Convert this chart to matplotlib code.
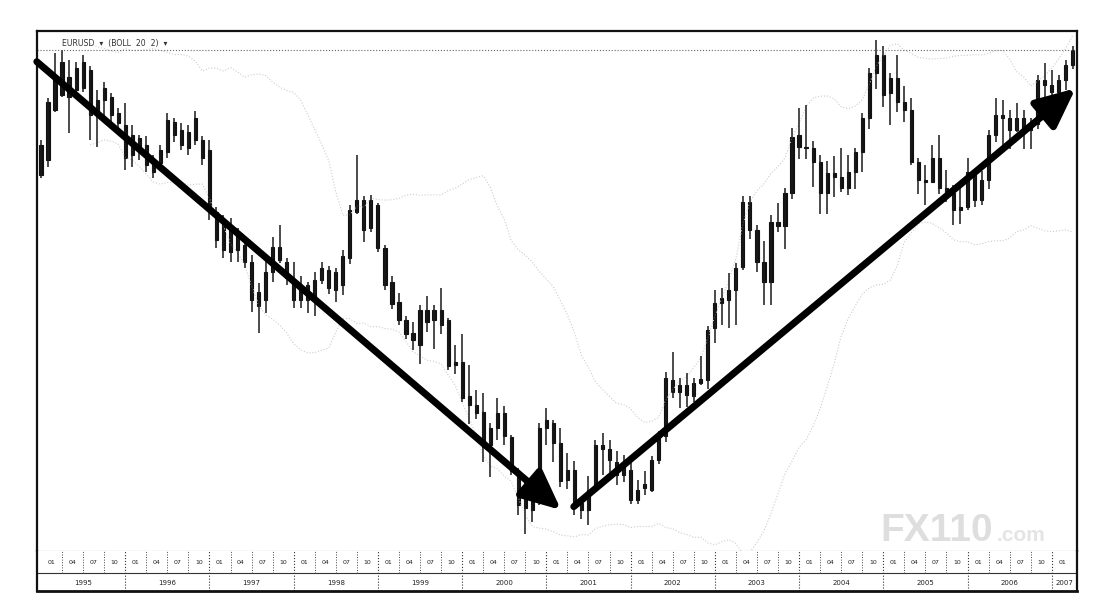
import numpy as np
import pandas as pd
import matplotlib
matplotlib.use("Agg")
import matplotlib.pyplot as plt

# monthly EUR/USD candles, Jan 1995 .. Apr 2007
highs = [1.292, 1.342, 1.396, 1.400, 1.388, 1.386, 1.394, 1.381, 1.352, 1.362, 1.348, 1.330,
         1.336, 1.310, 1.298, 1.297, 1.274, 1.286, 1.324, 1.318, 1.312, 1.310, 1.327, 1.297,
         1.292, 1.212, 1.202, 1.198, 1.186, 1.170, 1.154, 1.120, 1.148, 1.176, 1.190, 1.150,
         1.146, 1.129, 1.122, 1.134, 1.146, 1.141, 1.138, 1.160, 1.214, 1.274, 1.225, 1.226,
         1.216, 1.166, 1.129, 1.108, 1.081, 1.074, 1.094, 1.105, 1.094, 1.114, 1.078, 1.046,
         1.059, 1.022, 0.992, 0.988, 0.952, 0.982, 0.973, 0.938, 0.898, 0.886, 0.878, 0.952,
         0.970, 0.956, 0.946, 0.916, 0.907, 0.862, 0.889, 0.932, 0.940, 0.932, 0.919, 0.914,
         0.907, 0.884, 0.895, 0.913, 0.943, 1.014, 1.038, 1.006, 1.012, 1.006, 1.033, 1.069,
         1.112, 1.114, 1.132, 1.144, 1.225, 1.225, 1.190, 1.171, 1.202, 1.216, 1.234, 1.306,
         1.330, 1.334, 1.291, 1.274, 1.267, 1.273, 1.282, 1.274, 1.282, 1.324, 1.378, 1.412,
         1.405, 1.372, 1.394, 1.357, 1.342, 1.270, 1.262, 1.286, 1.298, 1.256, 1.238, 1.234,
         1.270, 1.255, 1.255, 1.304, 1.342, 1.340, 1.328, 1.336, 1.328, 1.318, 1.370, 1.384,
         1.376, 1.370, 1.388, 1.405]
lows = [1.246, 1.260, 1.326, 1.344, 1.300, 1.346, 1.350, 1.292, 1.284, 1.318, 1.314, 1.306,
        1.256, 1.260, 1.268, 1.254, 1.246, 1.262, 1.270, 1.290, 1.280, 1.274, 1.286, 1.262,
        1.196, 1.162, 1.150, 1.146, 1.146, 1.138, 1.086, 1.060, 1.084, 1.122, 1.144, 1.118,
        1.090, 1.090, 1.084, 1.081, 1.119, 1.107, 1.098, 1.106, 1.143, 1.203, 1.170, 1.182,
        1.158, 1.112, 1.089, 1.070, 1.053, 1.040, 1.023, 1.062, 1.041, 1.059, 1.016, 1.011,
        0.978, 0.951, 0.957, 0.906, 0.888, 0.932, 0.926, 0.890, 0.842, 0.819, 0.834, 0.854,
        0.926, 0.906, 0.876, 0.873, 0.842, 0.837, 0.830, 0.873, 0.890, 0.891, 0.878, 0.882,
        0.855, 0.855, 0.866, 0.870, 0.903, 0.930, 0.982, 0.970, 0.972, 0.978, 0.998, 0.993,
        1.048, 1.070, 1.066, 1.070, 1.136, 1.173, 1.134, 1.094, 1.094, 1.182, 1.161, 1.221,
        1.269, 1.269, 1.236, 1.203, 1.203, 1.224, 1.230, 1.226, 1.233, 1.254, 1.305, 1.353,
        1.332, 1.310, 1.326, 1.314, 1.262, 1.227, 1.214, 1.242, 1.227, 1.218, 1.190, 1.191,
        1.208, 1.212, 1.214, 1.233, 1.290, 1.281, 1.281, 1.302, 1.281, 1.281, 1.305, 1.344,
        1.340, 1.344, 1.352, 1.377]
opens = [1.250, 1.268, 1.328, 1.346, 1.368, 1.352, 1.386, 1.376, 1.322, 1.340, 1.344, 1.324,
         1.310, 1.274, 1.294, 1.286, 1.268, 1.264, 1.278, 1.314, 1.304, 1.302, 1.292, 1.292,
         1.280, 1.206, 1.160, 1.186, 1.160, 1.166, 1.146, 1.110, 1.100, 1.134, 1.164, 1.146,
         1.124, 1.100, 1.118, 1.102, 1.124, 1.136, 1.112, 1.118, 1.150, 1.206, 1.220, 1.186,
         1.214, 1.162, 1.122, 1.098, 1.076, 1.060, 1.046, 1.088, 1.076, 1.070, 1.076, 1.022,
         1.026, 0.985, 0.974, 0.966, 0.926, 0.946, 0.964, 0.936, 0.895, 0.872, 0.848, 0.872,
         0.946, 0.952, 0.928, 0.884, 0.896, 0.856, 0.848, 0.872, 0.926, 0.921, 0.906, 0.890,
         0.896, 0.860, 0.874, 0.872, 0.908, 0.937, 1.004, 0.990, 0.998, 0.985, 1.000, 1.004,
         1.066, 1.096, 1.100, 1.112, 1.140, 1.218, 1.184, 1.146, 1.122, 1.194, 1.189, 1.228,
         1.298, 1.284, 1.282, 1.266, 1.228, 1.252, 1.248, 1.234, 1.254, 1.278, 1.318, 1.372,
         1.394, 1.348, 1.366, 1.338, 1.328, 1.266, 1.244, 1.242, 1.270, 1.234, 1.228, 1.208,
         1.212, 1.254, 1.220, 1.244, 1.298, 1.322, 1.318, 1.304, 1.318, 1.304, 1.311, 1.364,
         1.358, 1.350, 1.364, 1.382]
closes = [1.286, 1.338, 1.368, 1.386, 1.344, 1.378, 1.354, 1.322, 1.340, 1.354, 1.322, 1.312,
          1.270, 1.298, 1.278, 1.262, 1.254, 1.280, 1.316, 1.298, 1.286, 1.282, 1.318, 1.270,
          1.206, 1.172, 1.190, 1.158, 1.178, 1.146, 1.100, 1.093, 1.134, 1.164, 1.148, 1.126,
          1.100, 1.118, 1.100, 1.124, 1.138, 1.114, 1.134, 1.153, 1.208, 1.220, 1.184, 1.220,
          1.162, 1.118, 1.095, 1.076, 1.059, 1.052, 1.088, 1.074, 1.088, 1.088, 1.021, 1.026,
          0.982, 0.974, 0.964, 0.924, 0.946, 0.964, 0.937, 0.895, 0.854, 0.850, 0.872, 0.946,
          0.956, 0.928, 0.883, 0.896, 0.856, 0.848, 0.872, 0.926, 0.921, 0.908, 0.890, 0.902,
          0.860, 0.872, 0.879, 0.908, 0.937, 1.006, 0.990, 0.998, 0.986, 1.000, 1.005, 1.064,
          1.096, 1.102, 1.112, 1.138, 1.218, 1.184, 1.146, 1.122, 1.194, 1.189, 1.228, 1.296,
          1.284, 1.282, 1.266, 1.228, 1.252, 1.248, 1.234, 1.254, 1.278, 1.318, 1.372, 1.394,
          1.346, 1.366, 1.338, 1.328, 1.266, 1.244, 1.242, 1.270, 1.234, 1.228, 1.208, 1.212,
          1.254, 1.220, 1.244, 1.298, 1.322, 1.318, 1.304, 1.318, 1.304, 1.311, 1.364, 1.358,
          1.350, 1.364, 1.382, 1.400]

years = ["1995", "1996", "1997", "1998", "1999", "2000", "2001", "2002",
         "2003", "2004", "2005", "2006", "2007"]
quarter_labels = ["01", "04", "07", "10"]
title_text = "EURUSD  \u25be  (BOLL  20  2)  \u25be"

# the two trend arrows, (month index, price)
down_start, down_end = (-0.6, 1.386), (74.1, 0.848)
up_start, up_end = (75.9, 0.852), (147.4, 1.354)

W, H = 1101, 595


def box(l, t, r, b):
    return [l / W, 1 - b / H, (r - l) / W, (b - t) / H]


fig = plt.figure(figsize=(W / 100, H / 100), dpi=100)
fig.patch.set_facecolor("white")
ax = fig.add_axes(box(37, 31, 1077, 551))
axb = fig.add_axes(box(37, 551, 1077, 591))

x = np.arange(len(closes))
o = np.array(opens)
c = np.array(closes)

# bollinger bands 20, 2
s = pd.Series(closes)
mid = s.rolling(20, min_periods=8).mean()
sd = s.rolling(20, min_periods=8).std(ddof=0)
ax.plot(x, mid + 2 * sd, ls=":", color="#cccccc", lw=0.8)
ax.plot(x, mid - 2 * sd, ls=":", color="#cccccc", lw=0.8)

# candles
ax.vlines(x, lows, highs, color="#1a1a1a", lw=1.1)
ax.bar(x, np.abs(c - o), bottom=np.minimum(o, c), width=0.45,
       color="#111111", edgecolor="#111111", lw=0.8)

# arrows
style = "-|>,head_length=1.2,head_width=0.55"
ax.annotate("", xy=down_end, xytext=down_start,
            arrowprops=dict(arrowstyle=style, lw=5, color="black",
                            shrinkA=0, shrinkB=0, mutation_scale=20))
ax.annotate("", xy=up_end, xytext=up_start,
            arrowprops=dict(arrowstyle=style, lw=5, color="black",
                            shrinkA=0, shrinkB=0, mutation_scale=20))

ax.set_xlim(-0.57, 147.6)
ax.set_ylim(1.46 - 0.0012 * 551, 1.46 - 0.0012 * 31)
ax.set_xticks([])
ax.set_yticks([])
for side in ["left", "top", "right"]:
    ax.spines[side].set_linewidth(1.6)
    ax.spines[side].set_color("#111111")
ax.spines["bottom"].set_linestyle(":")
ax.spines["bottom"].set_color("#444444")
ax.plot([0, 1], [0.9635, 0.9635], transform=ax.transAxes,
        ls=":", color="#666666", lw=0.8)
ax.text(0.024, 0.985, title_text, transform=ax.transAxes, fontsize=5.6,
        color="#333333", va="top", ha="left")

# date band under the chart
axb.set_xlim(-0.57, 147.6)
axb.set_ylim(0, 1)
axb.set_xticks([])
axb.set_yticks([])
for side in axb.spines:
    axb.spines[side].set_color("#111111")
axb.spines["bottom"].set_linewidth(2.0)
axb.spines["left"].set_linewidth(1.6)
axb.spines["right"].set_linewidth(1.6)
axb.spines["top"].set_visible(False)
axb.axhline(0.45, color="#333333", lw=0.8)
for k, yr in enumerate(years):
    x0 = 12 * k
    x1 = min(x0 + 12, 147.6)
    axb.text((x0 + x1) / 2, 0.2, yr, fontsize=5, ha="center", va="center",
             color="#222222")
    if k > 0:
        axb.plot([x0, x0], [0, 1], ls=":", color="#333333", lw=0.8)
    for q, lab in enumerate(quarter_labels):
        qx = x0 + 3 * q
        if qx >= 147:
            break
        axb.text(qx + 1.5, 0.72, lab, fontsize=4.5, ha="center", va="center",
                 color="#222222")
        if q > 0:
            axb.plot([qx, qx], [0.45, 1], ls=":", color="#444444", lw=0.7)

# watermark
fig.text(880 / W, 1 - 541 / H, "FX110", fontsize=28, fontweight="bold",
         family="Liberation Sans", color="#dedede", va="baseline", ha="left")
fig.text(997 / W, 1 - 541 / H, ".com", fontsize=15, fontweight="bold",
         family="Liberation Sans", color="#e4e4e4", va="baseline", ha="left")

fig.savefig("out.png", dpi=100, facecolor="white")
